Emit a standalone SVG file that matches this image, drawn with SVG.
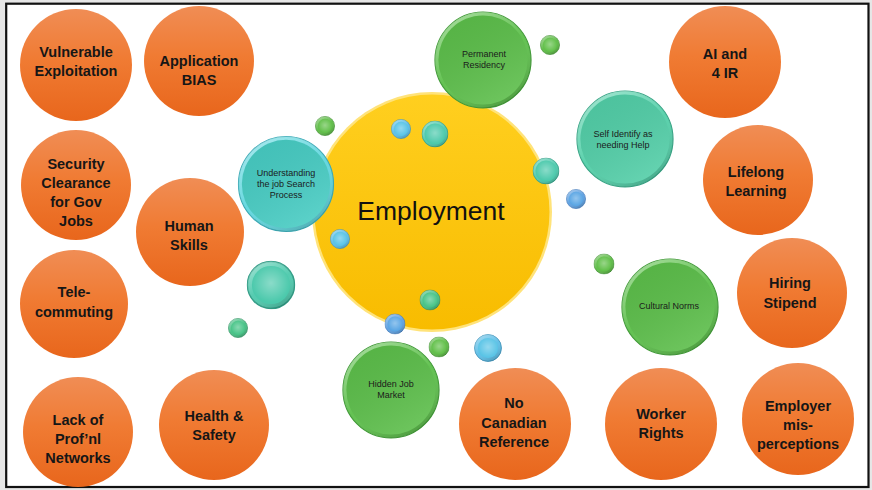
<svg xmlns="http://www.w3.org/2000/svg" xmlns:xlink="http://www.w3.org/1999/xlink" width="872" height="490" viewBox="0 0 872 490">
  <style>
    .big { font-family: "Liberation Sans", Arial, sans-serif; font-weight: bold; font-size: 14.5px; fill: #161616; text-anchor: middle; }
    .small { font-family: "Liberation Sans", Arial, sans-serif; font-size: 9px; fill: #1b1b1b; text-anchor: middle; }
    .title { font-family: "Liberation Sans", Arial, sans-serif; font-size: 26.5px; fill: #111; text-anchor: middle; }
    .orange { fill: url(#orangeGrad); }
  </style>
  <defs>
    <linearGradient id="orangeGrad" x1="0" y1="0" x2="0" y2="1">
      <stop offset="0" stop-color="#f08d55"/>
      <stop offset="0.45" stop-color="#f07b33"/>
      <stop offset="1" stop-color="#e8661c"/>
    </linearGradient>
    <linearGradient id="yellowGrad" x1="0" y1="0" x2="0" y2="1">
      <stop offset="0" stop-color="#ffcf1f"/>
      <stop offset="1" stop-color="#f8bc00"/>
    </linearGradient>
    <!-- bevel shading shared by all bubbles -->
    <linearGradient id="ringShade" x1="0.2" y1="0" x2="0.8" y2="1">
      <stop offset="0" stop-color="#fff" stop-opacity="0.45"/>
      <stop offset="0.5" stop-color="#fff" stop-opacity="0.05"/>
      <stop offset="1" stop-color="#000" stop-opacity="0.22"/>
    </linearGradient>
    <linearGradient id="discShade" x1="0.2" y1="0" x2="0.8" y2="1">
      <stop offset="0" stop-color="#000" stop-opacity="0.06"/>
      <stop offset="1" stop-color="#fff" stop-opacity="0.12"/>
    </linearGradient>
    <radialGradient id="gloss" cx="0.5" cy="0.45" r="0.5">
      <stop offset="0" stop-color="#fff" stop-opacity="0.35"/>
      <stop offset="1" stop-color="#fff" stop-opacity="0"/>
    </radialGradient>

    <symbol id="b-green" viewBox="-50 -50 100 100">
      <circle r="49" fill="#5cbf4a" stroke="#3f9a35" stroke-width="1.2"/>
      <circle r="49" fill="url(#ringShade)"/>
      <circle r="45.5" fill="#5cbf4a"/>
      <circle r="45.5" fill="url(#discShade)"/>
    </symbol>
    <symbol id="b-teal" viewBox="-50 -50 100 100">
      <circle r="49" fill="#5fd6de" stroke="#38a9b5" stroke-width="1.2"/>
      <circle r="49" fill="url(#ringShade)"/>
      <circle r="45.5" fill="#47cdc4"/>
      <circle r="45.5" fill="url(#discShade)"/>
    </symbol>
    <symbol id="b-mint" viewBox="-50 -50 100 100">
      <circle r="49" fill="#52cfa8" stroke="#36a585" stroke-width="1.2"/>
      <circle r="49" fill="url(#ringShade)"/>
      <circle r="45.5" fill="#52cfa8"/>
      <circle r="45.5" fill="url(#discShade)"/>
    </symbol>
    <symbol id="b-sea" viewBox="-50 -50 100 100">
      <circle r="48" fill="#4cc9ac" stroke="#2f9c85" stroke-width="3"/>
      <circle r="48" fill="url(#ringShade)"/>
      <circle r="39" fill="#4cc9ac"/>
      <circle r="39" fill="url(#gloss)"/>
    </symbol>
    <symbol id="b-cyan" viewBox="-50 -50 100 100">
      <circle r="48" fill="#5abde6" stroke="#3a8fb8" stroke-width="3"/>
      <circle r="48" fill="url(#ringShade)"/>
      <circle r="36" fill="#5ac4e6"/>
      <circle r="36" fill="url(#gloss)"/>
    </symbol>
    <symbol id="b-blue" viewBox="-50 -50 100 100">
      <circle r="48" fill="#5c9fe0" stroke="#3b72b5" stroke-width="3"/>
      <circle r="48" fill="url(#ringShade)"/>
      <circle r="36" fill="#5aa6e4"/>
      <circle r="36" fill="url(#gloss)"/>
    </symbol>
    <symbol id="b-lime" viewBox="-50 -50 100 100">
      <circle r="48" fill="#5cba44" stroke="#3a8a2c" stroke-width="3"/>
      <circle r="48" fill="url(#ringShade)"/>
      <circle r="36" fill="#62c04a"/>
      <circle r="36" fill="url(#gloss)"/>
    </symbol>
    <symbol id="b-jade" viewBox="-50 -50 100 100">
      <circle r="48" fill="#44be82" stroke="#2c8c5c" stroke-width="3"/>
      <circle r="48" fill="url(#ringShade)"/>
      <circle r="36" fill="#48c488"/>
      <circle r="36" fill="url(#gloss)"/>
    </symbol>
  </defs>

  <!-- page and frame -->
  <rect x="0" y="0" width="872" height="490" fill="#e6e6e6"/>
  <rect x="6.2" y="3.7" width="862.3" height="483.3" fill="#ffffff" stroke="#111" stroke-width="2.2"/>

  <!-- orange barrier nodes -->
  <g id="vulnerable-exploitation">
    <circle class="orange" cx="76" cy="65" r="56"/>
    <text class="big" x="76" y="57">Vulnerable</text>
    <text class="big" x="76" y="76">Exploitation</text>
  </g>
  <g id="application-bias">
    <circle class="orange" cx="199" cy="61" r="55"/>
    <text class="big" x="199" y="66">Application</text>
    <text class="big" x="199" y="85">BIAS</text>
  </g>
  <g id="security-clearance">
    <circle class="orange" cx="76" cy="185" r="55"/>
    <text class="big" x="76" y="169">Security</text>
    <text class="big" x="76" y="188">Clearance</text>
    <text class="big" x="76" y="207">for Gov</text>
    <text class="big" x="76" y="226">Jobs</text>
  </g>
  <g id="human-skills">
    <circle class="orange" cx="190" cy="232" r="54"/>
    <text class="big" x="189" y="231">Human</text>
    <text class="big" x="189" y="250">Skills</text>
  </g>
  <g id="telecommuting">
    <circle class="orange" cx="74" cy="304" r="54"/>
    <text class="big" x="74" y="297">Tele-</text>
    <text class="big" x="74" y="317">commuting</text>
  </g>
  <g id="lack-of-networks">
    <circle class="orange" cx="78" cy="432" r="55"/>
    <text class="big" x="78" y="425">Lack of</text>
    <text class="big" x="78" y="444">Prof’nl</text>
    <text class="big" x="78" y="463">Networks</text>
  </g>
  <g id="health-safety">
    <circle class="orange" cx="214" cy="425" r="55"/>
    <text class="big" x="214" y="421">Health &amp;</text>
    <text class="big" x="214" y="440">Safety</text>
  </g>
  <g id="no-canadian-reference">
    <circle class="orange" cx="515" cy="424" r="56"/>
    <text class="big" x="514" y="408">No</text>
    <text class="big" x="514" y="428">Canadian</text>
    <text class="big" x="514" y="447">Reference</text>
  </g>
  <g id="ai-4ir">
    <circle class="orange" cx="725" cy="62" r="56"/>
    <text class="big" x="725" y="59">AI and</text>
    <text class="big" x="725" y="78">4 IR</text>
  </g>
  <g id="lifelong-learning">
    <circle class="orange" cx="758" cy="180" r="55"/>
    <text class="big" x="756" y="177">Lifelong</text>
    <text class="big" x="756" y="196">Learning</text>
  </g>
  <g id="hiring-stipend">
    <circle class="orange" cx="792" cy="293" r="55"/>
    <text class="big" x="790" y="288">Hiring</text>
    <text class="big" x="790" y="308">Stipend</text>
  </g>
  <g id="worker-rights">
    <circle class="orange" cx="661" cy="424" r="56"/>
    <text class="big" x="661" y="419">Worker</text>
    <text class="big" x="661" y="438">Rights</text>
  </g>
  <g id="employer-misperceptions">
    <circle class="orange" cx="798" cy="419" r="56"/>
    <text class="big" x="798" y="411">Employer</text>
    <text class="big" x="798" y="430">mis-</text>
    <text class="big" x="798" y="449">perceptions</text>
  </g>

  <!-- central node -->
  <g id="employment">
    <circle cx="432" cy="212" r="120" fill="#ffe37a"/>
    <circle cx="432" cy="212" r="117.5" fill="url(#yellowGrad)"/>
    <text class="title" x="431" y="220">Employment</text>
  </g>

  <!-- supporting bubbles -->
  <g id="permanent-residency">
    <use xlink:href="#b-green" x="434" y="11" width="98" height="98"/>
    <text class="small" x="484" y="57">Permanent</text>
    <text class="small" x="484" y="68">Residency</text>
  </g>
  <g id="understanding-job-search">
    <use xlink:href="#b-teal" x="237.5" y="135.5" width="97" height="97"/>
    <text class="small" x="286" y="176">Understanding</text>
    <text class="small" x="286" y="187">the job Search</text>
    <text class="small" x="286" y="198">Process</text>
  </g>
  <g id="self-identify">
    <use xlink:href="#b-mint" x="576" y="90" width="98" height="98"/>
    <text class="small" x="623" y="137">Self Identify as</text>
    <text class="small" x="623" y="148">needing Help</text>
  </g>
  <g id="cultural-norms">
    <use xlink:href="#b-green" x="621" y="258" width="98" height="98"/>
    <text class="small" x="669" y="309">Cultural Norms</text>
  </g>
  <g id="hidden-job-market">
    <use xlink:href="#b-green" x="342" y="341" width="98" height="98"/>
    <text class="small" x="391" y="387">Hidden Job</text>
    <text class="small" x="391" y="398">Market</text>
  </g>

  <!-- decorative droplets -->
  <g id="droplets">
    <use xlink:href="#b-lime" x="540" y="35" width="20" height="20"/>
    <use xlink:href="#b-lime" x="315" y="116" width="20" height="20"/>
    <use xlink:href="#b-cyan" x="391" y="119" width="20" height="20"/>
    <use xlink:href="#b-sea" x="421.5" y="120.5" width="27" height="27"/>
    <use xlink:href="#b-sea" x="532.5" y="157.5" width="27" height="27"/>
    <use xlink:href="#b-blue" x="566" y="189" width="20" height="20"/>
    <use xlink:href="#b-cyan" x="330" y="229" width="20" height="20"/>
    <use xlink:href="#b-sea" x="246.5" y="260.5" width="49" height="49"/>
    <use xlink:href="#b-jade" x="228" y="318" width="20" height="20"/>
    <use xlink:href="#b-jade" x="419.5" y="289.5" width="21" height="21"/>
    <use xlink:href="#b-blue" x="384.5" y="313.5" width="21" height="21"/>
    <use xlink:href="#b-lime" x="428.5" y="336.5" width="21" height="21"/>
    <use xlink:href="#b-cyan" x="474" y="334" width="28" height="28"/>
    <use xlink:href="#b-lime" x="593.5" y="253.5" width="21" height="21"/>
  </g>
</svg>
